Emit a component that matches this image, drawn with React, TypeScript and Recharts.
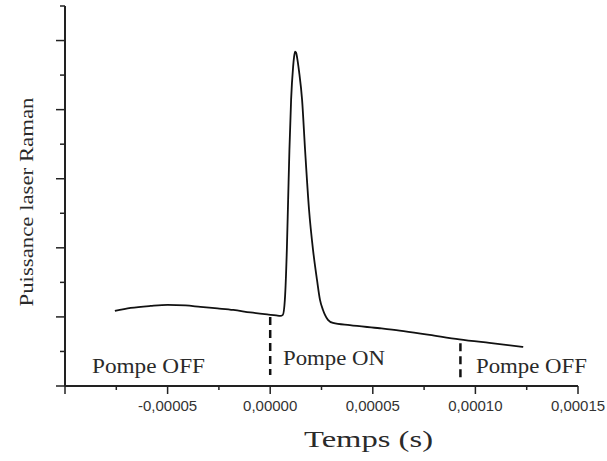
import { LineChart, Line, XAxis, YAxis, ReferenceLine } from 'recharts'

// time in seconds, Raman laser power in arbitrary units
const times = [
  -7.57e-5, -6.8e-5, -5.83e-5, -5.0e-5, -4.13e-5, -3.4e-5, -2.57e-5, -1.8e-5, -0.97e-5, -0.15e-5,
  0.29e-5, 0.49e-5, 0.616e-5, 0.714e-5, 0.811e-5, 0.874e-5, 0.937e-5, 1.019e-5, 1.117e-5, 1.165e-5,
  1.214e-5, 1.262e-5, 1.311e-5, 1.408e-5, 1.553e-5, 1.699e-5, 1.893e-5, 2.087e-5, 2.281e-5, 2.427e-5,
  2.573e-5, 2.67e-5, 2.815e-5, 3.058e-5, 3.88e-5, 5.34e-5, 6.31e-5, 7.77e-5, 9.22e-5, 10.68e-5, 12.33e-5,
]
const power = [
  1.087, 1.13, 1.159, 1.174, 1.167, 1.145, 1.123, 1.101, 1.065, 1.036,
  1.022, 1.014, 1.029, 1.246, 1.971, 2.696, 3.42, 4.145, 4.623, 4.768,
  4.841, 4.826, 4.754, 4.551, 4.145, 3.42, 2.551, 1.971, 1.536, 1.246,
  1.101, 1.029, 0.957, 0.913, 0.88, 0.836, 0.803, 0.74, 0.676, 0.623, 0.565,
]

const xTicks = [-1e-4, -7.5e-5, -5e-5, -2.5e-5, 0, 2.5e-5, 5e-5, 7.5e-5, 1e-4, 1.25e-4, 1.5e-4]
const xTickLabels = ['', '', '-0,00005', '', '0,00000', '', '0,00005', '', '0,00010', '', '0,00015']
const yTicks = [0, 0.5, 1, 1.5, 2, 2.5, 3, 3.5, 4, 4.5, 5, 5.5]

const pumpOnTime = 0
const pumpOffTime = 9.27e-5

const data = times.map((t, i) => ({ t, v: power[i] }))

const AXIS = '#222'

function XTick(props: any) {
  const { x, y, index } = props
  const major = index % 2 === 0
  return (
    <g>
      <line x1={x} x2={x} y1={y} y2={y + (major ? 8 : 4)} stroke={AXIS} strokeWidth={1.5} />
      {xTickLabels[index] && (
        <text x={x} y={y + 25} textAnchor="middle" fontSize={15} fill="#333"
          style={{ fontFamily: '"Liberation Sans", Arial, sans-serif' }}>
          {xTickLabels[index]}
        </text>
      )}
    </g>
  )
}

function YTick(props: any) {
  const { x, y, index } = props
  const major = index % 2 === 0
  return <line x1={x - (major ? 9 : 5)} x2={x} y1={y} y2={y} stroke={AXIS} strokeWidth={1.5} />
}

const serif = '"Liberation Serif", "DejaVu Serif", serif'

export default function App() {
  return (
    <div style={{ position: 'absolute', left: 0, top: 0, width: 607, height: 461, background: '#fff' }}>
      <LineChart width={607} height={461} data={data} margin={{ top: 6, right: 29, bottom: 45, left: 0 }}>
        <XAxis
          type="number"
          dataKey="t"
          domain={[-1e-4, 1.5e-4]}
          ticks={xTicks}
          interval={0}
          tickSize={0}
          tickMargin={0}
          tick={<XTick />}
          tickLine={false}
          axisLine={{ stroke: AXIS, strokeWidth: 2 }}
          height={30}
          allowDataOverflow
        />
        <YAxis
          type="number"
          domain={[0, 5.5]}
          ticks={yTicks}
          interval={0}
          tickSize={0}
          tickMargin={0}
          tick={<YTick />}
          tickLine={false}
          axisLine={{ stroke: AXIS, strokeWidth: 2 }}
          width={65}
          allowDataOverflow
        />
        <ReferenceLine
          segment={[{ x: pumpOnTime, y: 1.0 }, { x: pumpOnTime, y: 0.16 }]}
          stroke="#111" strokeWidth={2.5} strokeDasharray="8 5"
        />
        <ReferenceLine
          segment={[{ x: pumpOffTime, y: 0.62 }, { x: pumpOffTime, y: 0.06 }]}
          stroke="#111" strokeWidth={2.5} strokeDasharray="8 5"
        />
        <Line
          type="monotone"
          dataKey="v"
          stroke="#111"
          strokeWidth={1.8}
          dot={false}
          isAnimationActive={false}
        />
      </LineChart>
      <svg width={607} height={461} style={{ position: 'absolute', left: 0, top: 0, pointerEvents: 'none' }}>
        <g style={{ fontFamily: serif }} fill="#2a2a2a">
          <text x={92} y={373} fontSize={21} textLength={113} lengthAdjust="spacingAndGlyphs">Pompe OFF</text>
          <text x={283} y={365} fontSize={21} textLength={102} lengthAdjust="spacingAndGlyphs">Pompe ON</text>
          <text x={476} y={373} fontSize={21} textLength={111} lengthAdjust="spacingAndGlyphs">Pompe OFF</text>
          <text x={304} y={447} fontSize={24} textLength={129} lengthAdjust="spacingAndGlyphs">Temps (s)</text>
          <text
            x={0} y={0} fontSize={18} textAnchor="middle" textLength={209} lengthAdjust="spacingAndGlyphs"
            transform="translate(33 202) rotate(-90)"
          >
            Puissance laser Raman
          </text>
        </g>
      </svg>
    </div>
  )
}
